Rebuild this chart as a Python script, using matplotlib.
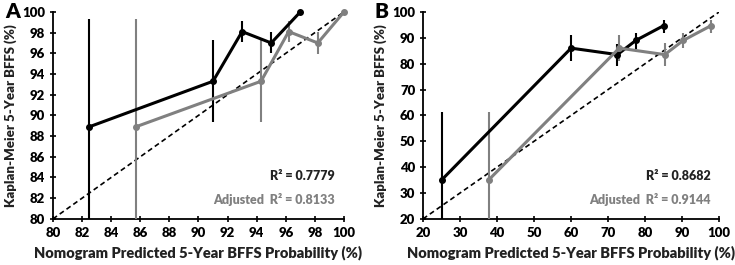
import numpy as np
import matplotlib
matplotlib.use("Agg")
import matplotlib.pyplot as plt

plt.rcParams['font.family'] = ['Lato', 'DejaVu Sans']
plt.rcParams['font.weight'] = 'heavy'
W = 'heavy'

# panel A data
a_km_x = [82.5, 91.0, 93.0, 95.0, 97.0]
a_km_y = [88.9, 93.3, 98.1, 97.0, 100.0]
a_km_lo = [80.0, 89.4, 97.1, 96.0, 100.0]
a_km_hi = [99.3, 97.3, 99.1, 98.1, 100.0]
a_adj_x = [85.7, 94.3, 96.2, 98.2, 100.0]
a_adj_y = [88.9, 93.3, 98.1, 97.0, 100.0]
a_adj_lo = [80.0, 89.4, 97.1, 95.9, 100.0]
a_adj_hi = [99.3, 97.3, 99.1, 98.1, 100.0]

# panel B data
b_km_x = [25.0, 60.0, 72.5, 77.5, 85.0]
b_km_y = [35.0, 86.0, 83.5, 89.0, 94.7]
b_km_lo = [20.0, 81.0, 79.0, 85.5, 92.0]
b_km_hi = [61.5, 91.0, 87.5, 92.0, 97.0]
b_adj_x = [37.7, 73.0, 85.3, 90.3, 97.8]
b_adj_y = [35.0, 86.0, 83.5, 89.0, 94.7]
b_adj_lo = [20.0, 81.0, 79.0, 86.0, 92.0]
b_adj_hi = [61.5, 91.0, 88.0, 92.0, 97.0]

r2_a = ("R² = 0.7779", "Adjusted  R² = 0.8133")
r2_b = ("R² = 0.8682", "Adjusted  R² = 0.9144")

BLACK = '#000000'
GRAY = '#808080'


def draw_series(ax, x, y, lo, hi, color, lw):
    x = np.array(x); y = np.array(y)
    err = [y - np.array(lo), np.array(hi) - y]
    ax.errorbar(x, y, yerr=err, color=color, lw=lw, elinewidth=1.5,
                marker='o', ms=4, capsize=0, clip_on=False, zorder=3)


def setup(ax, lo, hi, step, letter, r2):
    ax.plot([lo, hi], [lo, hi], ls='--', color='black', lw=1.2, zorder=2,
            dashes=(3, 2))
    ax.set_xlim(lo, hi)
    ax.set_ylim(lo, hi)
    ticks = np.arange(lo, hi + step / 2, step)
    ax.set_xticks(ticks)
    ax.set_yticks(ticks)
    ax.set_xticklabels([f"{t:g}" for t in ticks], fontsize=9.5, fontweight=W)
    ax.set_yticklabels([f"{t:g}" for t in ticks], fontsize=9.5, fontweight=W)
    ax.tick_params(direction='inout', length=5, width=1.2, pad=3)
    for s in ['top', 'right']:
        ax.spines[s].set_visible(False)
    for s in ['left', 'bottom']:
        ax.spines[s].set_linewidth(1.3)
    ax.set_xlabel("Nomogram Predicted 5-Year BFFS Probability (%)",
                  fontsize=10.5, fontweight=W, color='#222222', labelpad=5)
    ax.set_ylabel("Kaplan-Meier 5-Year BFFS (%)", fontsize=9.5,
                  fontweight=W, color='#222222', labelpad=4)
    ax.text(-0.165, 1.0, letter, transform=ax.transAxes, fontsize=15,
            fontweight=W, va='center', ha='left')
    ax.text(0.97, 0.205, r2[0], transform=ax.transAxes, fontsize=9,
            fontweight=W, color='#222222', ha='right', va='center')
    ax.text(0.97, 0.095, r2[1], transform=ax.transAxes, fontsize=9,
            fontweight=W, color=GRAY, ha='right', va='center')


fig = plt.figure(figsize=(7.35, 2.65), dpi=100)
ax1 = fig.add_axes([0.072, 0.174, 0.396, 0.781])
ax2 = fig.add_axes([0.5755, 0.174, 0.403, 0.781])

draw_series(ax1, a_km_x, a_km_y, a_km_lo, a_km_hi, BLACK, 2.2)
draw_series(ax1, a_adj_x, a_adj_y, a_adj_lo, a_adj_hi, GRAY, 2.2)
setup(ax1, 80, 100, 2, "A", r2_a)

draw_series(ax2, b_km_x, b_km_y, b_km_lo, b_km_hi, BLACK, 2.2)
draw_series(ax2, b_adj_x, b_adj_y, b_adj_lo, b_adj_hi, GRAY, 2.2)
setup(ax2, 20, 100, 10, "B", r2_b)

fig.savefig("out.png", dpi=100)
